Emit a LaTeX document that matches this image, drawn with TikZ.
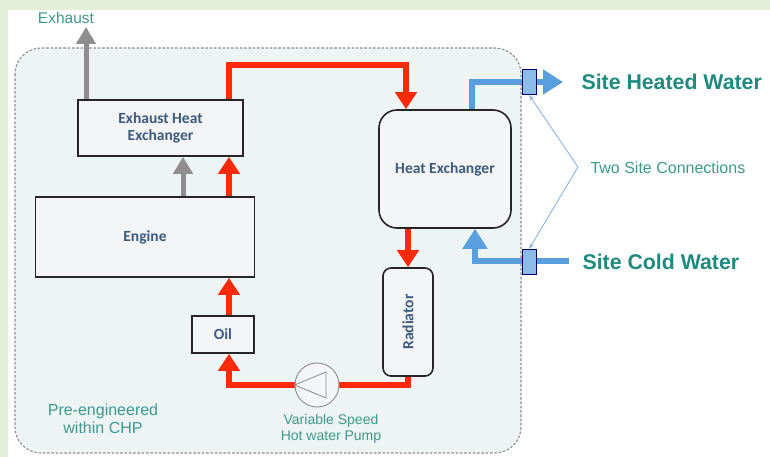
\documentclass[tikz,border=0pt]{standalone}
\usepackage{fontspec}
\setmainfont{Liberation Sans}
\newfontfamily\boxfont{Carlito}
\usetikzlibrary{arrows.meta,calc}
\definecolor{frame}{HTML}{E4EFDA}
\definecolor{panel}{HTML}{EEF3F4}
\definecolor{boxfill}{HTML}{F3F5F6}
\definecolor{boxtext}{HTML}{3E5A7C}
\definecolor{hot}{HTML}{FF2A0A}
\definecolor{cold}{HTML}{5A9FDD}
\definecolor{fume}{HTML}{8E8E8E}
\definecolor{teal}{HTML}{3C9A8C}
\definecolor{tealdark}{HTML}{1F8A7E}
\definecolor{thin}{HTML}{8DB4E2}
\pgfdeclarelayer{bg}
\pgfdeclarelayer{pipes}
\pgfsetlayers{bg,pipes,main}
\tikzset{
  unit/.style={draw=black!85, line width=1.6pt, fill=boxfill, inner sep=2pt,
    font=\boxfont\bfseries\fontsize{15.5}{17.5}\selectfont, text=boxtext, align=center},
  hotpipe/.style={draw=hot, line width=6.5pt, line join=miter,
    -{Triangle[width=21pt,length=17pt]}},
  hotline/.style={draw=hot, line width=6.5pt, line join=miter},
  fumepipe/.style={draw=fume, line width=5pt,
    -{Triangle[width=19pt,length=17pt]}},
  coldpipe/.style={draw=cold, line width=5.5pt, line join=miter,
    -{Triangle[width=24pt,length=20pt]}},
  port/.style={draw=black!60!blue, line width=0.8pt, fill=cold!70, minimum width=14pt,
    minimum height=25pt, inner sep=0pt},
  note/.style={text=teal, font=\fontsize{15.5}{18}\selectfont, align=center},
  site/.style={text=tealdark, font=\bfseries\fontsize{21.3}{24}\selectfont, anchor=west},
  pointer/.style={draw=thin, line width=0.9pt, -{Stealth[length=6pt,width=4pt]}}
}
\begin{document}
\begin{tikzpicture}[x=1pt,y=-1pt]
\useasboundingbox (0,0) rectangle (770,457);
\begin{pgfonlayer}{bg}
  \fill[frame] (0,0) rectangle (770,457);
  \fill[white] (8,10) rectangle (770,457);
  \draw[fill=panel, draw=black!45, line width=1.1pt, dash pattern=on 2.5pt off 1.8pt,
    rounded corners=26pt] (15,48) rectangle (521,453);
\end{pgfonlayer}

% equipment
\node[unit, minimum width=165pt, minimum height=56pt] (ehx) at (160.5,128) {Exhaust Heat\\Exchanger};
\node[unit, minimum width=219pt, minimum height=80pt] (engine) at (145,237) {Engine};
\node[unit, minimum width=62pt, minimum height=37pt] (oil) at (223,334.5) {Oil};
\node[unit, rounded corners=18pt, minimum width=132pt, minimum height=118pt] (hx) at (445,169) {Heat Exchanger};
\node[unit, rounded corners=8pt, minimum width=50pt, minimum height=108pt] (rad) at (408,322)
  {\rotatebox{90}{Radiator}};
\node[circle, draw=black!45, line width=0.9pt, fill=boxfill, minimum size=44pt, inner sep=0pt] (pump) at (317,385) {};
\draw[black!45, line width=0.8pt] (pump.west) -- ($(pump.center)+(9,-13)$) -- ($(pump.center)+(9,13)$) -- cycle;

\node[port] (portH) at (529,82) {};
\node[port] (portC) at (529,262) {};

% reference coordinates
\coordinate (exh) at (86,27);
\coordinate (xg) at (183,0);
\coordinate (xr) at (229,0);
\coordinate (top) at (0,65);
\coordinate (xh) at (406,0);
\coordinate (bot) at (0,385);
\coordinate (xb1) at (472,0);
\coordinate (xb2) at (475,0);
\coordinate (hwout) at (563,82);
\coordinate (cwin) at (569,261);
\coordinate (tsc) at (578,167);

\begin{pgfonlayer}{pipes}
  % exhaust gas
  \draw[fumepipe] (ehx.north -| exh) -- (exh);
  \draw[fumepipe] (engine.north -| xg) -- (ehx.south -| xg);
  % engine water loop
  \draw[hotpipe] (engine.north -| xr) -- (ehx.south -| xr);
  \draw[hotpipe] (ehx.north -| xr) -- (xr |- top) -- (xh |- top) -- (hx.north -| xh);
  \draw[hotpipe] (hx.south -| rad) -- (rad.north);
  \draw[hotline] (rad.south) -- (rad.south |- bot) -- (pump.east);
  \draw[hotpipe] (pump.west) -- (xr |- bot) -- (oil.south -| xr);
  \draw[hotpipe] (oil.north -| xr) -- (engine.south -| xr);
  % site water
  \draw[coldpipe] (hx.north -| xb1) -- (xb1 |- hwout) -- (hwout);
  \draw[coldpipe] (cwin) -- (xb2 |- cwin) -- (hx.south -| xb2);
\end{pgfonlayer}

% connection call-out
\draw[pointer] (tsc) -- (portH.south);
\draw[pointer] (tsc) -- (portC.north);

% labels
\node[note] (lexh) at (66,18) {Exhaust};
\node[note, font=\fontsize{14}{15.5}\selectfont] (lpump) at (331,429) {Variable Speed\\Hot water Pump};
\node[note, font=\fontsize{16}{18}\selectfont] (lpre) at (103,419) {Pre-engineered\\within CHP};
\node[note, font=\fontsize{16}{18}\selectfont, anchor=west] (ltwo) at (587,168) {Two Site Connections};
\node[site] (lhot) at (578,82) {Site Heated Water};
\node[site] (lcold) at (579,262) {Site Cold Water};
\end{tikzpicture}
\end{document}
